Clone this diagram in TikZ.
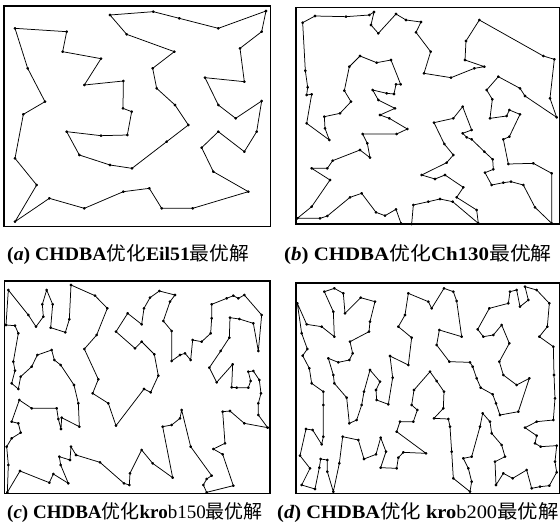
\documentclass[tikz,border=0pt]{standalone}
\usepackage{graphicx}
\usepackage{fontspec}
\setmainfont{Liberation Serif}
\newfontfamily\cjk{Noto Sans CJK SC}
\begin{document}
\begin{tikzpicture}[x=1pt,y=-1pt,
  tour/.style={line width=0.75pt, line join=round},
  frame/.style={line width=1.2pt},
  dots/.style={mark=*, mark size=1pt},
  captext/.style={anchor=west, inner sep=0pt, font=\fontsize{19}{22}\selectfont\bfseries}]
\useasboundingbox (0,0) rectangle (560,523);
% panel a
\begin{scope}[x=0.33333pt,y=-0.33333pt]
\draw[frame] (12,18) rectangle (812,680);
\draw[tour] plot[dots] coordinates {(45,85) (200,95) (188,155) (303,176) (253,255) (370,243) (369,325) (395,335) (382,405) (303,407) (200,395) (238,465) (330,495) (396,505) (500,425) (565,375) (525,315) (470,265) (458,205) (523,155) (380,103) (330,45) (460,35) (538,55) (655,85) (798,33) (785,95) (720,145) (733,245) (615,233) (655,315) (707,355) (785,303) (770,395) (733,455) (655,395) (605,443) (640,515) (745,575) (578,625) (485,625) (448,565) (370,575) (253,625) (148,595) (45,665) (110,555) (45,475) (70,343) (135,305) (83,205)} -- cycle;
\end{scope}
% panel b
\begin{scope}[shift={(290pt,0pt)},x=0.33333pt,y=-0.33333pt]
\draw[frame] (18,22) rectangle (808,672);
\draw[tour] plot[dots] coordinates {(38,68) (75,48) (168,50) (238,45) (252,36) (243,75) (265,100) (318,42) (348,60) (393,66) (378,97) (422,155) (402,220) (483,233) (553,205) (583,200) (525,180) (528,123) (568,60) (760,168) (793,178) (780,295) (800,352) (705,288) (690,265) (625,230) (590,270) (607,298) (600,355) (650,348) (658,330) (690,343) (658,410) (640,418) (655,492) (730,490) (785,520) (785,670) (735,622) (700,555) (663,545) (640,548) (605,555) (585,518) (610,508) (608,478) (583,455) (545,418) (530,412) (518,400) (545,390) (518,320) (490,355) (432,368) (463,432) (490,465) (470,488) (395,525) (435,537) (465,525) (520,562) (500,592) (560,630) (565,670) (488,605) (450,597) (415,605) (370,615) (365,672) (333,670) (318,628) (285,647) (258,637) (215,580) (180,592) (112,648) (90,655) (22,655) (65,620) (120,540) (65,505) (112,505) (128,482) (210,450) (240,473) (232,430) (218,402) (320,402) (352,387) (298,355) (270,345) (315,325) (265,300) (248,270) (290,280) (312,282) (318,253) (332,253) (303,180) (260,188) (210,168) (178,200) (163,272) (183,305) (150,340) (103,350) (105,385) (118,420) (50,370) (65,283) (50,285) (53,262) (46,212)} -- cycle;
\end{scope}
% panel c
\begin{scope}[shift={(0pt,-275pt)},x=0.33333pt,y=-0.33333pt]
\draw[frame] (14,18) rectangle (810,655);
\draw[tour] plot[dots] coordinates {(25,45) (18,150) (45,152) (55,175) (40,260) (45,287) (35,325) (55,342) (62,305) (95,275) (112,240) (155,225) (163,255) (182,270) (222,330) (235,385) (238,455) (185,428) (183,462) (175,432) (170,400) (95,400) (58,375) (35,440) (55,445) (62,473) (35,490) (20,515) (25,570) (22,652) (60,588) (148,623) (160,597) (205,625) (182,570) (178,545) (210,555) (213,515) (228,540) (300,562) (372,625) (388,630) (390,595) (425,525) (458,565) (518,608) (488,455) (515,450) (540,430) (545,405) (572,515) (635,602) (620,612) (610,630) (620,652) (700,632) (668,538) (640,522) (675,505) (668,410) (690,408) (733,445) (803,458) (775,420) (775,385) (783,355) (778,315) (760,288) (745,290) (752,318) (745,338) (710,338) (695,337) (698,268) (650,322) (628,278) (662,228) (688,188) (690,128) (718,132) (760,145) (775,228) (785,120) (733,60) (715,70) (700,62) (680,70) (635,88) (635,130) (632,175) (605,200) (578,195) (572,255) (555,235) (540,240) (515,258) (515,168) (490,138) (510,80) (525,60) (478,48) (450,68) (432,100) (425,148) (383,115) (348,170) (405,220) (425,200) (463,238) (475,302) (452,352) (432,342) (348,452) (325,385) (278,355) (295,313) (253,222) (290,180) (322,100) (285,62) (213,30) (208,133) (196,172) (152,158) (158,88) (140,45) (127,88) (130,125) (108,155) (85,120)} -- cycle;
\end{scope}
% panel d
\begin{scope}[shift={(290pt,-275pt)},x=0.33333pt,y=-0.33333pt]
\draw[frame] (18,24) rectangle (808,655);
\draw[tour] plot[dots] coordinates {(22,85) (50,148) (95,155) (133,185) (130,110) (103,50) (133,40) (160,55) (165,115) (212,68) (255,80) (240,140) (237,170) (180,200) (188,235) (178,255) (145,262) (115,250) (130,300) (133,325) (170,368) (178,445) (200,435) (215,390) (222,350) (240,285) (270,320) (258,345) (260,375) (295,388) (308,308) (300,243) (355,270) (365,188) (325,155) (345,120) (355,55) (415,80) (425,100) (462,40) (490,50) (500,78) (515,185) (448,165) (440,210) (478,260) (540,262) (548,275) (560,310) (572,338) (608,358) (618,385) (630,420) (685,410) (718,310) (680,330) (640,300) (628,260) (658,205) (635,150) (610,180) (580,185) (563,163) (598,100) (655,85) (660,50) (680,45) (690,95) (715,75) (705,35) (740,45) (778,85) (772,155) (748,185) (790,215) (792,300) (795,370) (790,435) (740,440) (705,458) (740,482) (735,505) (752,515) (800,512) (795,560) (800,592) (778,632) (750,635) (725,640) (710,585) (668,610) (640,595) (618,630) (615,560) (645,545) (635,510) (605,475) (600,440) (578,415) (570,455) (545,545) (520,550) (535,580) (545,620) (540,650) (490,610) (485,530) (480,455) (475,432) (432,430) (460,400) (462,350) (440,318) (420,290) (372,345) (365,390) (382,405) (370,440) (330,440) (320,470) (408,535) (340,532) (325,548) (320,580) (272,578) (288,530) (272,488) (258,538) (222,552) (205,495) (158,485) (148,565) (130,650) (112,590) (112,555) (92,552) (88,578) (75,642) (35,630) (60,580) (30,542) (48,462) (68,465) (95,508) (100,485) (100,390) (100,350) (65,325) (58,280) (38,242) (52,222) (35,175)} -- cycle;
\end{scope}
% captions
\node[captext] (capa) at (7,255) {\scalebox{1.04}[1]{(\textit{a}) CHDBA{\cjk\mdseries 优化}Eil51{\cjk\mdseries 最优解}}};
\node[captext] (capb) at (284,255) {\scalebox{1.1}[1]{(\textit{b}) CHDBA{\cjk\mdseries 优化}Ch130{\cjk\mdseries 最优解}}};
\node[captext] (capc) at (7,513) {(\textit{c}) CHDBA{\cjk\mdseries 优化}kro{\mdseries b150}{\cjk\mdseries 最优解}};
\node[captext] (capd) at (277,513) {\scalebox{1.075}[1]{(\textit{d}) CHDBA{\cjk\mdseries 优化} kro{\mdseries b200}{\cjk\mdseries 最优解}}};
\end{tikzpicture}
\end{document}
